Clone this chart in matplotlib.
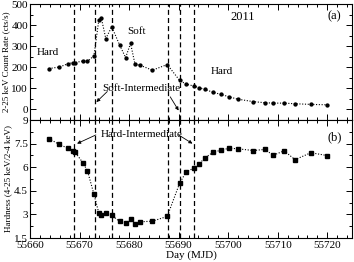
import matplotlib
matplotlib.use("Agg")
import matplotlib.pyplot as plt
from matplotlib.ticker import MultipleLocator

days = [55663.8, 55665.9, 55667.6, 55668.6, 55669.1, 55670.7, 55671.6, 55672.9,
        55673.9, 55674.4, 55675.3, 55676.5, 55678.1, 55679.3, 55680.3, 55681.2,
        55682.3, 55684.7, 55687.7, 55690.2, 55691.5, 55693.1, 55694.2, 55695.3,
        55697.0, 55698.6, 55700.2, 55701.9, 55705.1, 55707.4, 55709.1, 55711.3,
        55713.5, 55716.7, 55720.0]
count_rate = [194, 201, 216, 222, 222, 230, 228, 254,
              425, 433, 336, 392, 305, 246, 313, 214,
              209, 186, 213, 138, 120, 111, 103, 95,
              81, 71, 60, 49, 37, 32, 30, 30,
              27, 24, 22]
hardness = [7.82, 7.45, 7.21, 7.06, 6.96, 6.27, 5.77, 4.29,
            3.08, 2.98, 3.08, 2.94, 2.55, 2.44, 2.68, 2.42,
            2.53, 2.57, 2.87, 4.98, 5.69, 5.95, 6.23, 6.59,
            6.96, 7.08, 7.21, 7.17, 7.06, 7.13, 6.76, 7.04,
            6.48, 6.92, 6.74]
transitions = [55668.85, 55673.1, 55676.5, 55687.8, 55690.2, 55693.2]

plt.rcParams['font.family'] = ['Liberation Serif', 'DejaVu Serif']
plt.rcParams['font.size'] = 8

fig = plt.figure(figsize=(3.54, 2.62), dpi=100)
W, H = 354, 262
left, right = 30 / W, 352 / W
ax1 = fig.add_axes([left, 1 - 120 / H, right - left, 116 / H])
ax2 = fig.add_axes([left, 1 - 238 / H, right - left, 118 / H], sharex=ax1)

for ax in (ax1, ax2):
    for t in transitions:
        ax.axvline(t, color='black', ls=(0, (4, 2.5)), lw=0.9, zorder=1)
    ax.tick_params(which='both', direction='in', top=True, right=True, width=0.7)
    ax.tick_params(which='major', length=4, labelsize=8, pad=1.5)
    ax.tick_params(which='minor', length=2)
    ax.xaxis.set_major_locator(MultipleLocator(10))
    ax.xaxis.set_minor_locator(MultipleLocator(2))
    for s in ax.spines.values():
        s.set_linewidth(0.8)

ax1.plot(days, count_rate, color='black', ls=(0, (1, 1.5)), lw=0.8, marker='o', ms=2.1, zorder=3)
ax1.set_xlim(55660, 55725)
ax1.set_ylim(-50, 500)
ax1.yaxis.set_major_locator(MultipleLocator(100))
ax1.yaxis.set_minor_locator(MultipleLocator(50))
ax1.tick_params(labelbottom=False)
ax1.set_ylabel('2-25 keV Count Rate (cts/s)', fontsize=6.5, labelpad=1)

ax2.plot(days, hardness, color='black', ls=(0, (1, 1.5)), lw=0.8, marker='s', ms=2.6, zorder=3)
ax2.set_ylim(1.5, 9)
ax2.set_yticks([1.5, 3, 4.5, 6, 7.5, 9])
ax2.set_yticklabels(['1.5', '3', '4.5', '6', '7.5', '9'])
ax2.yaxis.set_minor_locator(MultipleLocator(0.75))
ax2.set_ylabel('Hardness (4-25 keV/2-4 keV)', fontsize=6.5, labelpad=1)
ax2.set_xlabel('Day (MJD)', fontsize=8, labelpad=0)
ax2.tick_params(axis='x', pad=2.5)

ax1.text(55703, 440, '2011', fontsize=9, ha='center', va='center')
ax1.text(55721.5, 440, '(a)', fontsize=9, ha='center', va='center')
ax2.text(55721.5, 7.9, '(b)', fontsize=9, ha='center', va='center')
ax1.text(55663.6, 270, 'Hard', fontsize=8, ha='center', va='center')
ax1.text(55681.5, 370, 'Soft', fontsize=8, ha='center', va='center')
ax1.text(55698.8, 180, 'Hard', fontsize=8, ha='center', va='center')

arrow = dict(arrowstyle='-|>', color='black', lw=0.6, mutation_scale=5, shrinkA=0, shrinkB=0)
ax1.text(55682.5, 100, 'Soft-Intermediate', fontsize=8, ha='center', va='center')
ax1.annotate('', xy=(55673.4, 35), xytext=(55675.6, 85), arrowprops=arrow)
ax1.annotate('', xy=(55690.0, -5), xytext=(55688.3, 60), arrowprops=arrow)
ax2.text(55682.5, 8.1, 'Hard-Intermediate', fontsize=8, ha='center', va='center')
ax2.annotate('', xy=(55669.5, 7.5), xytext=(55673.3, 8.05), arrowprops=arrow)
ax2.annotate('', xy=(55692.8, 7.5), xytext=(55690.0, 8.05), arrowprops=arrow)

fig.savefig('out.png', dpi=100)
